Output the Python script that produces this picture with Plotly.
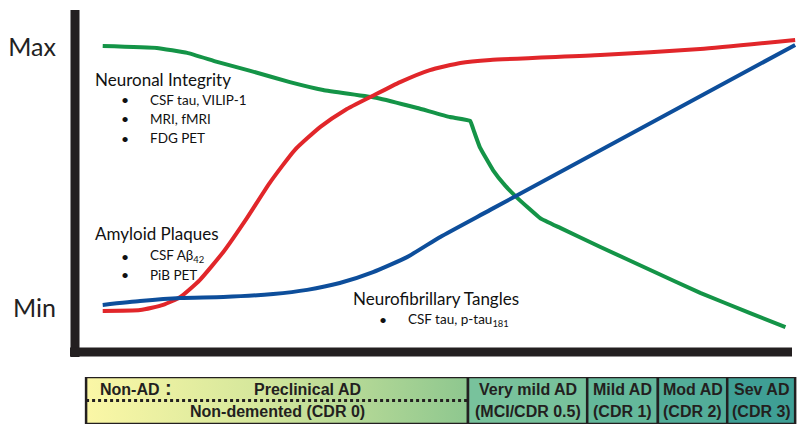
import plotly.graph_objects as go

# ---- data (x: disease progression 0-100, y: biomarker level, Min~0 .. Max~100) ----
green_x = [0.1, 7.9, 12.3, 16.6, 21.4, 27.1, 31.9, 39.7, 45.5, 50.2, 53.1, 53.7, 54.5, 56.4, 58.2, 59.9, 63.2, 66.1, 71.9, 79.1, 86.3, 93.5, 98.6]
green_y = [99.6, 98.9, 97.1, 93.8, 90.5, 86.4, 83.5, 80.6, 76.9, 73.6, 72.2, 68.1, 62.6, 54.2, 48.4, 44.0, 36.6, 33.0, 26.0, 17.6, 9.2, 1.8, -3.3]

red_x = [0.1, 5.5, 8.8, 11.3, 14.1, 17.5, 20.9, 24.2, 27.8, 31.5, 35.1, 39.0, 43.0, 47.3, 51.7, 56.0, 71.9, 86.3, 100.0]
red_y = [2.6, 2.9, 4.8, 7.7, 13.9, 24.2, 36.6, 49.5, 61.5, 70.0, 76.2, 81.3, 86.4, 90.8, 93.4, 94.5, 96.3, 98.5, 101.8]

blue_x = [0.1, 5.5, 11.3, 17.5, 24.7, 29.6, 34.3, 39.1, 44.0, 48.8, 56.0, 100.0]
blue_y = [4.8, 6.2, 7.3, 7.7, 8.8, 10.3, 12.8, 16.8, 22.3, 29.7, 39.6, 100.0]

y_tick_vals = [3.7, 99.3]
y_tick_text = ["Min", "Max"]

stage_edges = [-2.3, 52.8, 70.0, 80.2, 90.2, 100.0]
stage_top = ["Preclinical AD", "Very mild AD", "Mild AD", "Mod AD", "Sev AD"]
stage_bottom = ["Non-demented (CDR 0)", "(MCI/CDR 0.5)", "(CDR 1)", "(CDR 2)", "(CDR 3)"]
stage_colors = [None, "#78c29c", "#64b89b", "#53ad99", "#3f9f95"]

DARK = "#231f20"
TXT_FONT = "Lato, Calibri, 'Open Sans', sans-serif"
BOX_FONT = "'Liberation Sans Narrow', 'Arial Narrow', 'Liberation Sans', Arial, sans-serif"

fig = go.Figure()

fig.add_trace(go.Scatter(x=green_x, y=green_y, mode="lines",
                         line=dict(color="#149447", width=4, shape="spline", smoothing=0.3),
                         name="Neuronal Integrity"))
fig.add_trace(go.Scatter(x=red_x, y=red_y, mode="lines",
                         line=dict(color="#e1262a", width=4, shape="spline", smoothing=0.5),
                         name="Amyloid Plaques"))
fig.add_trace(go.Scatter(x=blue_x, y=blue_y, mode="lines",
                         line=dict(color="#0d4e9b", width=4, shape="spline", smoothing=0.5),
                         name="Neurofibrillary Tangles"))

# stage bar
for i in range(len(stage_top)):
    x0, x1 = stage_edges[i], stage_edges[i + 1]
    kw = dict(x=[x0, x1, x1, x0, x0], y=[0, 0, 1, 1, 0], xaxis="x", yaxis="y2",
              mode="lines", fill="toself", line=dict(color=DARK, width=2.5),
              hoverinfo="skip", showlegend=False)
    if stage_colors[i] is None:
        kw["fillgradient"] = dict(type="horizontal",
                                  colorscale=[[0, "#fbf7a6"], [0.45, "#d5e79c"], [1, "#8ec78f"]])
    else:
        kw["fillcolor"] = stage_colors[i]
    fig.add_trace(go.Scatter(**kw))

annotations = []
BF = dict(family=BOX_FONT, size=16, color=DARK)
for i in range(1, len(stage_top)):
    xc = (stage_edges[i] + stage_edges[i + 1]) / 2
    annotations.append(dict(x=xc, y=0.74, xref="x", yref="y2", text=f"<b>{stage_top[i]}</b>",
                            showarrow=False, font=BF))
    annotations.append(dict(x=xc, y=0.27, xref="x", yref="y2", text=f"<b>{stage_bottom[i]}</b>",
                            showarrow=False, font=BF))
annotations.append(dict(x=29.6, y=0.74, xref="x", yref="y2", text=f"<b>{stage_top[0]}</b>",
                        showarrow=False, font=BF))
annotations.append(dict(x=25.3, y=0.27, xref="x", yref="y2", text=f"<b>{stage_bottom[0]}</b>",
                        showarrow=False, font=BF))
annotations.append(dict(x=-0.6, y=0.74, xref="x", yref="y2", text="<b>Non-AD</b>", xanchor="left",
                        showarrow=False, font=BF))
annotations.append(dict(x=9.6, y=0.77, xref="x", yref="y2", text="<b>:</b>", xanchor="center",
                        showarrow=False, font=dict(family=BOX_FONT, size=20, color=DARK)))

# biomarker labels
def head(x, y, t):
    annotations.append(dict(x=x, y=y, text=t, xanchor="left", showarrow=False,
                            font=dict(family=TXT_FONT, size=17, color="#111")))

def bullet(xb, xt, y, t):
    annotations.append(dict(x=xb, y=y, text="•", xanchor="center", showarrow=False,
                            font=dict(family=TXT_FONT, size=14, color="#111")))
    annotations.append(dict(x=xt, y=y, text=t, xanchor="left", showarrow=False,
                            font=dict(family=TXT_FONT, size=13.5, color="#111")))

head(-1.3, 87.5, "Neuronal Integrity")
bullet(3.3, 6.6, 79.9, "CSF tau, VILIP-1")
bullet(3.3, 6.6, 72.9, "MRI, fMRI")
bullet(3.3, 6.6, 65.9, "FDG PET")
head(-1.3, 31.1, "Amyloid Plaques")
bullet(3.3, 6.6, 22.7, "CSF Aβ<sub>42</sub>")
bullet(3.3, 6.6, 15.8, "PiB PET")
head(35.9, 7.3, "Neurofibrillary Tangles")
bullet(40.5, 43.9, -0.7, "CSF tau, p-tau<sub>181</sub>")

shapes = [
    # axes
    dict(type="line", xref="paper", yref="paper", x0=75 / 800, x1=75 / 800,
         y0=1 - 357 / 430, y1=1 - 10 / 430, line=dict(color=DARK, width=9)),
    dict(type="line", xref="paper", yref="paper", x0=70 / 800, x1=792 / 800,
         y0=1 - 352 / 430, y1=1 - 352 / 430, line=dict(color=DARK, width=9)),
    # dotted separator in first stage
    dict(type="line", xref="x", yref="y2", x0=stage_edges[0], x1=stage_edges[1], y0=0.5, y1=0.5,
         line=dict(color=DARK, width=3, dash="dot")),
]

fig.update_layout(
    width=800, height=430, margin=dict(l=0, r=0, t=0, b=0),
    plot_bgcolor="white", paper_bgcolor="white", showlegend=False,
    xaxis=dict(domain=[75 / 800, 1], range=[-3.9, 100.7], showgrid=False, zeroline=False,
               showticklabels=False, ticks=""),
    yaxis=dict(domain=[1 - 352 / 430, 1 - 10 / 430], range=[-12.45, 112.8], showgrid=False,
               zeroline=False, tickvals=y_tick_vals, ticktext=y_tick_text, ticks="",
               ticklabelstandoff=18,
               tickfont=dict(family=TXT_FONT, size=25, color="#222")),
    yaxis2=dict(domain=[1 - 424 / 430, 1 - 377 / 430], range=[0, 1], anchor="x",
                showgrid=False, zeroline=False, showticklabels=False, ticks=""),
    annotations=annotations, shapes=shapes,
)

fig.write_html("out.html", config={"displayModeBar": False},
               post_script="document.body.style.margin='0';document.body.style.overflow='hidden';")
